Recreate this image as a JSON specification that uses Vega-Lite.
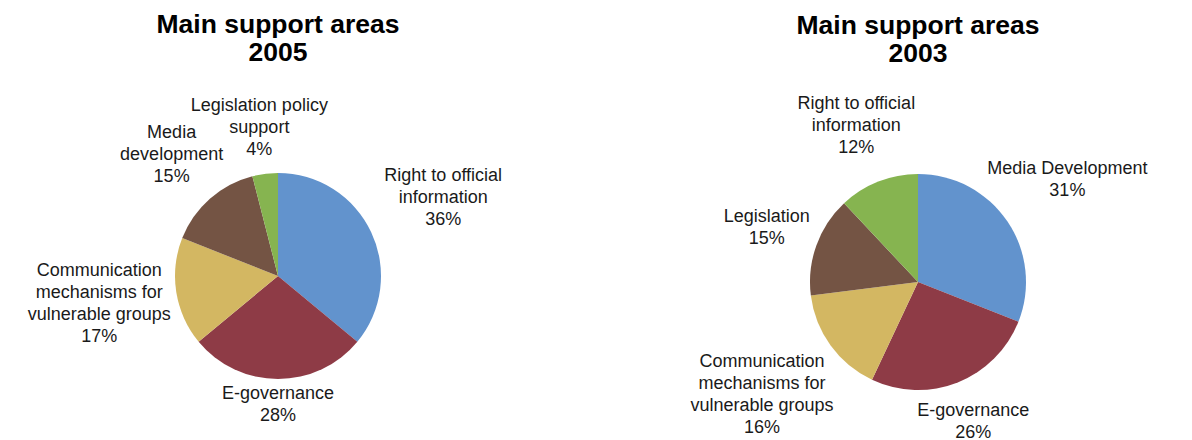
{
  "$schema": "https://vega.github.io/schema/vega-lite/v6.json",
  "padding": {"left": 4, "top": 11, "right": 0, "bottom": 0},
  "bounds": "flush",
  "spacing": 92,
  "config": {
    "view": {"stroke": null},
    "font": "Liberation Sans",
    "title": {"fontSize": 26.5, "fontWeight": "bold", "font": "Liberation Sans", "lineHeight": 28, "color": "#000000", "anchor": "middle"}
  },
  "datasets": {
    "y2005": [
      {"area": "Right to official information", "pct": 36, "label": ["Right to official", "information", "36%"]},
      {"area": "E-governance", "pct": 28, "label": ["E-governance", "28%"]},
      {"area": "Communication mechanisms for vulnerable groups", "pct": 17, "label": ["Communication", "mechanisms for", "vulnerable groups", "17%"]},
      {"area": "Media development", "pct": 15, "label": ["Media", "development", "15%"]},
      {"area": "Legislation policy support", "pct": 4, "label": ["Legislation policy", "support", "4%"]}
    ],
    "y2003": [
      {"area": "Media Development", "pct": 31, "label": ["Media Development", "31%"]},
      {"area": "E-governance", "pct": 26, "label": ["E-governance", "26%"]},
      {"area": "Communication mechanisms for vulnerable groups", "pct": 16, "label": ["Communication", "mechanisms for", "vulnerable groups", "16%"]},
      {"area": "Legislation", "pct": 15, "label": ["Legislation", "15%"]},
      {"area": "Right to official information", "pct": 12, "label": ["Right to official", "information", "12%"]}
    ]
  },
  "hconcat": [
    {
      "title": {"text": ["Main support areas", "2005"], "offset": 31},
      "width": 548,
      "height": 302,
      "data": {"name": "y2005"},
      "transform": [{"window": [{"op": "row_number", "as": "i"}]}],
      "layer": [
        {
          "mark": {"type": "arc", "radius": 103},
          "encoding": {
            "theta": {"field": "pct", "type": "quantitative", "stack": true},
            "order": {"field": "i", "type": "quantitative"},
            "color": {"field": "i", "type": "ordinal", "scale": {"range": ["#6293CD", "#8E3B46", "#D3B762", "#745444", "#86B450"]}, "legend": null}
          }
        },
        {
          "mark": {
            "type": "text",
            "radius": {"expr": "107 + 4*max(length(datum.label[0]), length(datum.label)>1 ? length(datum.label[1]) : 0, length(datum.label)>2 ? length(datum.label[2]) : 0, length(datum.label)>3 ? length(datum.label[3]) : 0)*abs(sin(PI*(datum.pct_start+datum.pct_end)/100)) + 11*length(datum.label)*abs(cos(PI*(datum.pct_start+datum.pct_end)/100))"},
            "dy": {"expr": "-11*(length(datum.label)-1)"},
            "fontSize": 18, "lineHeight": 22, "color": "#1a1a1a", "baseline": "middle", "align": "center"
          },
          "encoding": {
            "theta": {"field": "pct", "type": "quantitative", "stack": true},
            "order": {"field": "i", "type": "quantitative"},
            "detail": {"field": "i", "type": "ordinal"},
            "text": {"field": "label"}
          }
        }
      ]
    },
    {
      "title": {"text": ["Main support areas", "2003"], "offset": 28},
      "width": 548,
      "height": 314,
      "data": {"name": "y2003"},
      "transform": [{"window": [{"op": "row_number", "as": "i"}]}],
      "layer": [
        {
          "mark": {"type": "arc", "radius": 108},
          "encoding": {
            "theta": {"field": "pct", "type": "quantitative", "stack": true},
            "order": {"field": "i", "type": "quantitative"},
            "color": {"field": "i", "type": "ordinal", "scale": {"range": ["#6293CD", "#8E3B46", "#D3B762", "#745444", "#86B450"]}, "legend": null}
          }
        },
        {
          "mark": {
            "type": "text",
            "radius": {"expr": "112 + 4*max(length(datum.label[0]), length(datum.label)>1 ? length(datum.label[1]) : 0, length(datum.label)>2 ? length(datum.label[2]) : 0, length(datum.label)>3 ? length(datum.label[3]) : 0)*abs(sin(PI*(datum.pct_start+datum.pct_end)/100)) + 11*length(datum.label)*abs(cos(PI*(datum.pct_start+datum.pct_end)/100))"},
            "dy": {"expr": "-11*(length(datum.label)-1)"},
            "fontSize": 18, "lineHeight": 22, "color": "#1a1a1a", "baseline": "middle", "align": "center"
          },
          "encoding": {
            "theta": {"field": "pct", "type": "quantitative", "stack": true},
            "order": {"field": "i", "type": "quantitative"},
            "detail": {"field": "i", "type": "ordinal"},
            "text": {"field": "label"}
          }
        }
      ]
    }
  ]
}
